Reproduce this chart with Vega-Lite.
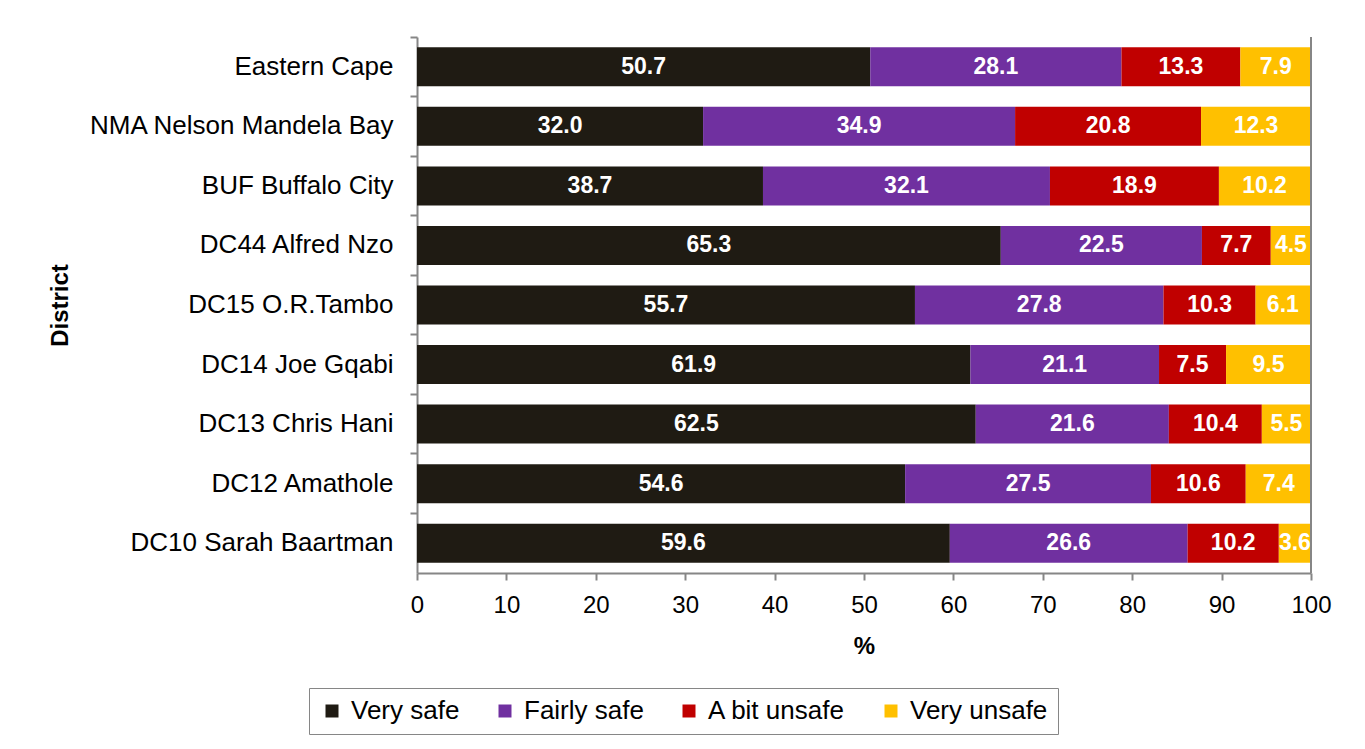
{
  "$schema": "https://vega.github.io/schema/vega-lite/v6.json",
  "autosize": "none",
  "width": 894,
  "height": 536,
  "padding": {"left": 417, "top": 37, "right": 54, "bottom": 176},
  "background": "white",
  "config": {
    "font": "Liberation Sans",
    "view": {"stroke": null}
  },
  "data": {
    "values": [
      {"district": "Eastern Cape", "level": "Very safe", "rank": 1, "value": 50.7},
      {"district": "Eastern Cape", "level": "Fairly safe", "rank": 2, "value": 28.1},
      {"district": "Eastern Cape", "level": "A bit unsafe", "rank": 3, "value": 13.3},
      {"district": "Eastern Cape", "level": "Very unsafe", "rank": 4, "value": 7.9},
      {"district": "NMA Nelson Mandela Bay", "level": "Very safe", "rank": 1, "value": 32.0},
      {"district": "NMA Nelson Mandela Bay", "level": "Fairly safe", "rank": 2, "value": 34.9},
      {"district": "NMA Nelson Mandela Bay", "level": "A bit unsafe", "rank": 3, "value": 20.8},
      {"district": "NMA Nelson Mandela Bay", "level": "Very unsafe", "rank": 4, "value": 12.3},
      {"district": "BUF Buffalo City", "level": "Very safe", "rank": 1, "value": 38.7},
      {"district": "BUF Buffalo City", "level": "Fairly safe", "rank": 2, "value": 32.1},
      {"district": "BUF Buffalo City", "level": "A bit unsafe", "rank": 3, "value": 18.9},
      {"district": "BUF Buffalo City", "level": "Very unsafe", "rank": 4, "value": 10.2},
      {"district": "DC44 Alfred Nzo", "level": "Very safe", "rank": 1, "value": 65.3},
      {"district": "DC44 Alfred Nzo", "level": "Fairly safe", "rank": 2, "value": 22.5},
      {"district": "DC44 Alfred Nzo", "level": "A bit unsafe", "rank": 3, "value": 7.7},
      {"district": "DC44 Alfred Nzo", "level": "Very unsafe", "rank": 4, "value": 4.5},
      {"district": "DC15 O.R.Tambo", "level": "Very safe", "rank": 1, "value": 55.7},
      {"district": "DC15 O.R.Tambo", "level": "Fairly safe", "rank": 2, "value": 27.8},
      {"district": "DC15 O.R.Tambo", "level": "A bit unsafe", "rank": 3, "value": 10.3},
      {"district": "DC15 O.R.Tambo", "level": "Very unsafe", "rank": 4, "value": 6.1},
      {"district": "DC14 Joe Gqabi", "level": "Very safe", "rank": 1, "value": 61.9},
      {"district": "DC14 Joe Gqabi", "level": "Fairly safe", "rank": 2, "value": 21.1},
      {"district": "DC14 Joe Gqabi", "level": "A bit unsafe", "rank": 3, "value": 7.5},
      {"district": "DC14 Joe Gqabi", "level": "Very unsafe", "rank": 4, "value": 9.5},
      {"district": "DC13 Chris Hani", "level": "Very safe", "rank": 1, "value": 62.5},
      {"district": "DC13 Chris Hani", "level": "Fairly safe", "rank": 2, "value": 21.6},
      {"district": "DC13 Chris Hani", "level": "A bit unsafe", "rank": 3, "value": 10.4},
      {"district": "DC13 Chris Hani", "level": "Very unsafe", "rank": 4, "value": 5.5},
      {"district": "DC12 Amathole", "level": "Very safe", "rank": 1, "value": 54.6},
      {"district": "DC12 Amathole", "level": "Fairly safe", "rank": 2, "value": 27.5},
      {"district": "DC12 Amathole", "level": "A bit unsafe", "rank": 3, "value": 10.6},
      {"district": "DC12 Amathole", "level": "Very unsafe", "rank": 4, "value": 7.4},
      {"district": "DC10 Sarah Baartman", "level": "Very safe", "rank": 1, "value": 59.6},
      {"district": "DC10 Sarah Baartman", "level": "Fairly safe", "rank": 2, "value": 26.6},
      {"district": "DC10 Sarah Baartman", "level": "A bit unsafe", "rank": 3, "value": 10.2},
      {"district": "DC10 Sarah Baartman", "level": "Very unsafe", "rank": 4, "value": 3.6}
    ]
  },
  "layer": [
    {
      "mark": {"type": "bar", "height": {"band": 0.655}},
      "encoding": {
        "y": {
          "field": "district",
          "type": "nominal",
          "sort": ["Eastern Cape", "NMA Nelson Mandela Bay", "BUF Buffalo City", "DC44 Alfred Nzo", "DC15 O.R.Tambo", "DC14 Joe Gqabi", "DC13 Chris Hani", "DC12 Amathole", "DC10 Sarah Baartman"],
          "scale": {"paddingInner": 0, "paddingOuter": 0},
          "axis": {
            "title": "District",
            "bandPosition": 0,
            "domainColor": "#868686",
            "domainWidth": 2,
            "tickColor": "#868686",
            "tickWidth": 2,
            "tickSize": 7,
            "labelFontSize": 26,
            "labelColor": "black",
            "labelPadding": 17,
            "labelLimit": 400,
            "titleFontSize": 24,
            "titleFontWeight": "bold",
            "titleColor": "black",
            "titleX": -357,
            "titleY": 268,
            "titleAngle": -90,
            "titleAlign": "center",
            "titleBaseline": "middle"
          }
        },
        "x": {
          "field": "value",
          "type": "quantitative",
          "stack": "zero",
          "scale": {"domain": [0, 100], "nice": false},
          "axis": {
            "title": "%",
            "values": [0, 10, 20, 30, 40, 50, 60, 70, 80, 90, 100],
            "grid": false,
            "domainColor": "#868686",
            "domainWidth": 2,
            "tickColor": "#868686",
            "tickWidth": 2,
            "tickSize": 7,
            "labelFontSize": 24,
            "labelColor": "black",
            "labelPadding": 13,
            "labelFlush": false,
            "titleFontSize": 24,
            "titleFontWeight": "bold",
            "titleColor": "black",
            "titleY": 80,
            "titleBaseline": "alphabetic"
          }
        },
        "color": {
          "field": "level",
          "type": "nominal",
          "scale": {
            "domain": ["Very safe", "Fairly safe", "A bit unsafe", "Very unsafe"],
            "range": ["#1f1b13", "#7030a0", "#c00000", "#ffc000"]
          },
          "legend": {
            "title": null,
            "orient": "none",
            "direction": "horizontal",
            "legendX": -108,
            "legendY": 651,
            "symbolType": "square",
            "symbolSize": 169,
            "symbolStrokeWidth": 0,
            "symbolOpacity": 1,
            "labelFontSize": 26,
            "labelColor": "black",
            "labelOffset": 6,
            "columnPadding": 32,
            "padding": 10,
            "strokeColor": "#868686",
            "labelLimit": 300
          }
        },
        "order": {"field": "rank", "type": "quantitative"}
      }
    },
    {
      "mark": {"type": "text", "color": "white", "fontSize": 23, "fontWeight": "bold", "baseline": "middle", "align": "center", "clip": true},
      "encoding": {
        "y": {"field": "district", "type": "nominal", "sort": ["Eastern Cape", "NMA Nelson Mandela Bay", "BUF Buffalo City", "DC44 Alfred Nzo", "DC15 O.R.Tambo", "DC14 Joe Gqabi", "DC13 Chris Hani", "DC12 Amathole", "DC10 Sarah Baartman"]},
        "x": {"field": "value", "type": "quantitative", "stack": "zero", "bandPosition": 0.5},
        "detail": {"field": "level"},
        "text": {"field": "value", "type": "quantitative", "format": ".1f"},
        "order": {"field": "rank", "type": "quantitative"}
      }
    },
    {
      "mark": {"type": "rule", "color": "#868686", "strokeWidth": 2},
      "encoding": {"x": {"datum": 100}}
    }
  ]
}
